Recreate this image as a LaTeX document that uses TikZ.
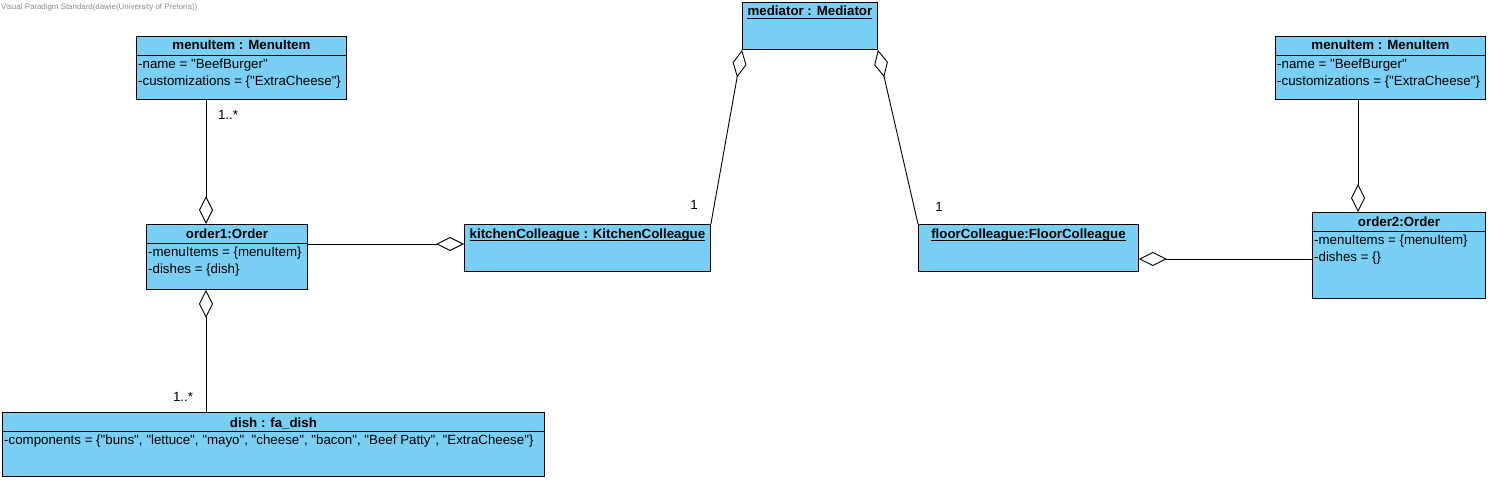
\documentclass[tikz,border=0pt]{standalone}
\usepackage{fontspec}
\setmainfont{Liberation Sans}[Ligatures=TeXOff]
\usepackage{tikz}
\usetikzlibrary{shapes,arrows.meta,positioning,calc}
\usepackage{xcolor}
\definecolor{vpblue}{HTML}{7ACFF5}
\definecolor{vpgray}{HTML}{8C8C8C}

\tikzset{
  obj/.style={draw=black, fill=vpblue, line width=0.9pt, anchor=north west, inner sep=0pt},
  title/.style={font=\fontsize{13.3}{15}\selectfont\bfseries, anchor=base, inner sep=0pt},
  attrs/.style={font=\fontsize{13.3}{17.5}\selectfont, anchor=north west, align=left, inner sep=0pt},
  agg/.style={line width=0.9pt, -{Diamond[open, length=28pt, width=14pt]}},
  mult/.style={font=\fontsize{13.3}{15}\selectfont, inner sep=0pt}
}

\begin{document}
\begin{tikzpicture}[x=1pt, y=-1pt]
  \useasboundingbox (0,0) rectangle (1490,481);

  \node[font=\fontsize{7.9}{9}\selectfont, vpgray, anchor=west, inner sep=0pt] (wm) at (1,7)
    {Visual Paradigm Standard(dawie(University of Pretoria))};

  % Objects
  \node[obj, minimum width=210pt, minimum height=63pt] (item1) at (136,36) {};
  \node[obj, minimum width=161pt, minimum height=65pt] (order1) at (146,224) {};
  \node[obj, minimum width=542pt, minimum height=64pt] (dish) at (2,412) {};
  \node[obj, minimum width=246pt, minimum height=47pt] (kitchen) at (464,224) {};
  \node[obj, minimum width=135pt, minimum height=47pt] (mediator) at (742,2) {};
  \node[obj, minimum width=220pt, minimum height=47pt] (floor) at (918,224) {};
  \node[obj, minimum width=210pt, minimum height=63pt] (item2) at (1275,36) {};
  \node[obj, minimum width=173pt, minimum height=86pt] (order2) at (1312,212) {};

  % Compartment lines
  \foreach \b in {item1, order1, dish, item2, order2} {
    \draw[line width=0.9pt] ([yshift=-19pt]\b.north west) -- ([yshift=-19pt]\b.north east);
  }

  % Titles
  \node[title] (item1t) at ([yshift=-14pt]item1.north) {menuItem : MenuItem};
  \node[title] (order1t) at ([yshift=-14pt]order1.north) {order1:Order};
  \node[title] (disht) at ([yshift=-15pt]dish.north) {dish : fa\_dish};
  \node[title] (kitchent) at ([yshift=-14pt]kitchen.north) {kitchenColleague : KitchenColleague};
  \node[title] (mediatort) at ([yshift=-14pt]mediator.north) {mediator : Mediator};
  \node[title] (floort) at ([yshift=-14pt]floor.north) {floorColleague:FloorColleague};
  \node[title] (item2t) at ([yshift=-14pt]item2.north) {menuItem : MenuItem};
  \node[title] (order2t) at ([yshift=-14pt]order2.north) {order2:Order};

  % underlined instance names
  \foreach \t in {kitchent, mediatort, floort} {
    \draw[line width=0.9pt] ([yshift=-2pt]\t.base west) -- ([yshift=-2pt]\t.base east);
  }

  % Attributes
  \node[attrs] (item1a) at ([shift={(2pt,-22.5pt)}]item1.north west)
    {-name = "BeefBurger"\\-customizations = \{"ExtraCheese"\}};
  \node[attrs] (order1a) at ([shift={(2pt,-22.5pt)}]order1.north west)
    {-menuItems = \{menuItem\}\\-dishes = \{dish\}};
  \node[attrs] (disha) at ([shift={(2pt,-22.5pt)}]dish.north west)
    {-components = \{"buns", "lettuce", "mayo", "cheese", "bacon", "Beef Patty", "ExtraCheese"\}};
  \node[attrs] (item2a) at ([shift={(2pt,-22.5pt)}]item2.north west)
    {-name = "BeefBurger"\\-customizations = \{"ExtraCheese"\}};
  \node[attrs] (order2a) at ([shift={(2pt,-22.5pt)}]order2.north west)
    {-menuItems = \{menuItem\}\\-dishes = \{\}};

  % Aggregations
  \draw[agg] ([xshift=70pt]item1.south west) -- ([xshift=60pt]order1.north west);
  \draw[agg] ([yshift=-20pt]order1.north east) -- ([yshift=-20pt]kitchen.north west);
  \draw[agg] ([xshift=204pt]dish.north west) -- ([xshift=60pt]order1.south west);
  \draw[agg] (kitchen.north east) -- (mediator.south west);
  \draw[agg] (floor.north west) -- (mediator.south east);
  \draw[agg] ([xshift=83pt]item2.south west) -- ([xshift=46pt]order2.north west);
  \draw[agg] ([yshift=-47pt]order2.north west) -- ([yshift=-35pt]floor.north east);

  % Multiplicities
  \node[mult] (m1) at (228,115) {1..*};
  \node[mult] (m2) at (183,397) {1..*};
  \node[mult] (m3) at (694,205) {1};
  \node[mult] (m4) at (939,207) {1};
\end{tikzpicture}
\end{document}
